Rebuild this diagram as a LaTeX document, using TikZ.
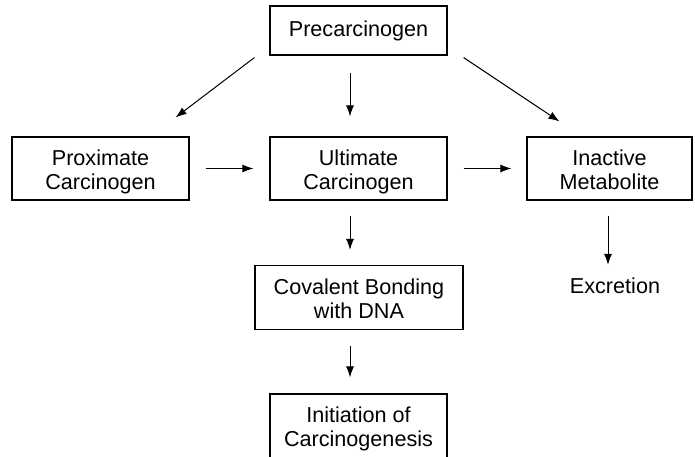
\documentclass[tikz,border=0pt]{standalone}
\usepackage{fontspec}
\setmainfont{Liberation Sans}
\usetikzlibrary{arrows.meta}
\newcommand{\twolines}[2]{\raisebox{-4pt}[\height][\depth]{\begin{tabular}{@{}c@{}}#1\\#2\end{tabular}}}
\tikzset{
  box/.style={draw,line width=1.1pt,inner sep=0pt,font=\fontsize{21.6}{24}\selectfont},
  lbl/.style={inner sep=0pt,font=\fontsize{21.6}{24}\selectfont},
  arr/.style={line width=1pt,-{Latex[length=11pt,width=8pt]}}
}
\begin{document}
\begin{tikzpicture}[x=1pt,y=-1pt,line cap=butt,line join=miter]
  \useasboundingbox (0,0) rectangle (695,457);
  \node[box,minimum width=177pt,minimum height=49pt] (pre) at (358.5,30.5) {Precarcinogen};
  \node[box,minimum width=177pt,minimum height=63pt] (prox) at (100.5,168.5) {\twolines{Proximate}{Carcinogen}};
  \node[box,minimum width=177pt,minimum height=63pt] (ult) at (358.5,168.5) {\twolines{Ultimate}{Carcinogen}};
  \node[box,minimum width=165pt,minimum height=63pt] (inact) at (609.5,168.5) {\twolines{Inactive}{Metabolite}};
  \node[box,minimum width=208pt,minimum height=64pt] (cov) at (359,297.5) {\twolines{Covalent Bonding}{with DNA}};
  \node[lbl] (exc) at (615,286) {Excretion};
  \node[box,minimum width=177pt,minimum height=64pt] (init) at (358.5,426) {\twolines{Initiation of}{Carcinogenesis}};
  % arrows
  \draw[arr] ([xshift=-15pt,yshift=-2pt]pre.south west) -- ([xshift=-14pt,yshift=19pt]prox.north east);
  \draw[arr] ([xshift=-8.5pt,yshift=-17pt]pre.south) -- ([xshift=-8.5pt,yshift=20pt]ult.north);
  \draw[arr] ([xshift=16pt,yshift=-2pt]pre.south east) -- ([xshift=33pt,yshift=15pt]inact.north west);
  \draw[arr,shorten <=16pt,shorten >=16pt] (prox.east) -- (ult.west);
  \draw[arr,shorten <=16pt,shorten >=15pt] (ult.east) -- (inact.west);
  \draw[arr] ([xshift=-8.5pt,yshift=-15pt]ult.south) -- ([xshift=-9pt,yshift=15pt]cov.north);
  \draw[arr] ([xshift=-9pt,yshift=-16pt]cov.south) -- ([xshift=-8.5pt,yshift=16pt]init.north);
  \draw[arr] ([xshift=-1.5pt,yshift=-15pt]inact.south) -- ([xshift=-7pt,yshift=13pt]exc.north);
\end{tikzpicture}
\end{document}
